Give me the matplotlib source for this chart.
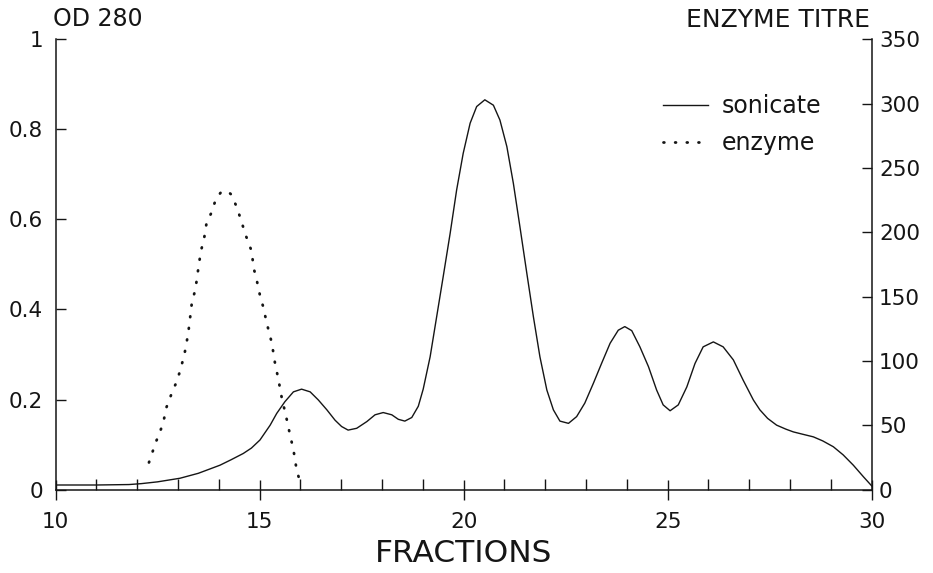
import matplotlib
matplotlib.use("Agg")
import matplotlib.pyplot as plt
from matplotlib.ticker import FixedLocator, MultipleLocator, FixedFormatter

plt.rcParams['font.family'] = ['DejaVu Sans']

# ---- data ----
sonicate_x = [10.0, 11.0, 11.8, 12.1, 12.5, 13.05, 13.5, 14.03, 14.3, 14.6, 14.8, 15.01,
              15.26, 15.42, 15.62, 15.83, 16.03, 16.24, 16.44, 16.65, 16.85, 17.01, 17.17,
              17.38, 17.63, 17.83, 18.03, 18.24, 18.40, 18.56, 18.73, 18.89, 19.01, 19.18,
              19.34, 19.50, 19.67, 19.83, 19.99, 20.16, 20.32, 20.52, 20.73, 20.89, 21.06,
              21.22, 21.38, 21.55, 21.71, 21.87, 22.04, 22.20, 22.36, 22.57, 22.77, 22.97,
              23.18, 23.38, 23.59, 23.79, 23.95, 24.12, 24.32, 24.53, 24.73, 24.89, 25.06,
              25.26, 25.47, 25.67, 25.87, 26.12, 26.36, 26.61, 26.85, 27.10, 27.26, 27.45,
              27.67, 27.9, 28.08, 28.3, 28.57, 28.8, 29.06, 29.3, 29.55, 29.8, 30.0]
sonicate_od = [0.010, 0.010, 0.011, 0.013, 0.017, 0.025, 0.036, 0.054, 0.066, 0.080, 0.092, 0.110,
               0.143, 0.169, 0.195, 0.217, 0.223, 0.217, 0.199, 0.177, 0.154, 0.140, 0.132,
               0.136, 0.151, 0.166, 0.171, 0.166, 0.156, 0.152, 0.160, 0.185, 0.223, 0.295,
               0.384, 0.473, 0.569, 0.666, 0.747, 0.814, 0.851, 0.866, 0.854, 0.821, 0.762,
               0.680, 0.584, 0.480, 0.384, 0.295, 0.221, 0.177, 0.152, 0.147, 0.162, 0.192,
               0.236, 0.280, 0.325, 0.354, 0.362, 0.353, 0.317, 0.273, 0.221, 0.188, 0.175,
               0.188, 0.228, 0.280, 0.317, 0.328, 0.317, 0.288, 0.243, 0.199, 0.177, 0.158,
               0.143, 0.134, 0.128, 0.123, 0.117, 0.108, 0.095, 0.077, 0.054, 0.028, 0.008]

enzyme_x = [12.29, 12.46, 12.54, 12.64, 12.72, 12.85, 12.97, 13.07, 13.17, 13.25, 13.30,
            13.34, 13.43, 13.50, 13.56, 13.64, 13.70, 13.83, 13.93, 14.05, 14.22, 14.32,
            14.46, 14.56, 14.67, 14.81, 14.85, 14.93, 15.01, 15.09, 15.18, 15.30, 15.38,
            15.46, 15.54, 15.67, 15.75, 15.83, 15.91, 16.02]
enzyme_titre = [21, 37, 43, 52, 64, 75, 84, 94, 107, 121, 134,
                145, 156, 172, 185, 195, 207, 216, 226, 231, 232, 229,
                218, 208, 197, 185, 173, 163, 151, 142, 129, 114, 98,
                86, 72, 54, 42, 31, 15, 3]

x_major = [10, 15, 20, 25, 30]
od_ticks = [0, 0.2, 0.4, 0.6, 0.8, 1.0]
od_labels = ['0', '0.2', '0.4', '0.6', '0.8', '1']
titre_ticks = [0, 50, 100, 150, 200, 250, 300, 350]

ink = '#151515'
tick_fs = 15.5

fig = plt.figure(figsize=(9.33, 5.73), dpi=100)
ax = fig.add_axes([55.5 / 933, 83.5 / 573, (871.7 - 55.5) / 933, 450 / 573])
ax2 = ax.twinx()

l1, = ax.plot(sonicate_x, sonicate_od, color=ink, lw=1.0, label='sonicate',
              solid_joinstyle='round')
l2, = ax2.plot(enzyme_x, enzyme_titre, color=ink, lw=2.0,
               linestyle=(0, (0.3, 3.9)), dash_capstyle='round', label='enzyme')

ax.set_xlim(10, 30)
ax.set_ylim(0, 1)
ax2.set_ylim(0, 350)

for a in (ax, ax2):
    a.spines['top'].set_visible(False)
    for s in a.spines.values():
        s.set_linewidth(1.1)
        s.set_color(ink)
ax.spines['right'].set_visible(False)
ax2.spines['left'].set_visible(False)
ax2.spines['bottom'].set_visible(False)

ax.xaxis.set_major_locator(FixedLocator(x_major))
ax.xaxis.set_minor_locator(MultipleLocator(1))
ax.tick_params(axis='x', which='major', direction='inout', length=13.7, width=1.0,
               color=ink, labelsize=tick_fs, pad=9, labelcolor=ink)
ax.tick_params(axis='x', which='minor', direction='in', length=8, width=1.0, color=ink)

ax.yaxis.set_major_locator(FixedLocator(od_ticks))
ax.yaxis.set_major_formatter(FixedFormatter(od_labels))
ax.tick_params(axis='y', which='major', direction='in', length=7.2, width=1.0,
               color=ink, labelsize=tick_fs, pad=9, labelcolor=ink)

ax2.yaxis.set_major_locator(FixedLocator(titre_ticks))
ax2.tick_params(axis='y', which='major', direction='in', length=7.2, width=1.0,
                color=ink, labelsize=tick_fs, pad=5.3, labelcolor=ink)

ax.set_xlabel('FRACTIONS', fontsize=22.5, color=ink, labelpad=5.5)

fig.text(53 / 933, 1 - 18.5 / 573, 'OD 280', fontsize=17, color=ink,
         ha='left', va='center')
fig.text(870 / 933, 1 - 20 / 573, 'ENZYME TITRE', fontsize=18, color=ink,
         ha='right', va='center')

leg = ax.legend(handles=[l1, l2], loc='upper left', bbox_to_anchor=(0.744, 0.878),
                frameon=False, fontsize=17, handlelength=1.9, handletextpad=0.58,
                labelspacing=0.55, borderpad=0, borderaxespad=0)
for t in leg.get_texts():
    t.set_color(ink)

fig.savefig('out.png', dpi=100, facecolor='white')
